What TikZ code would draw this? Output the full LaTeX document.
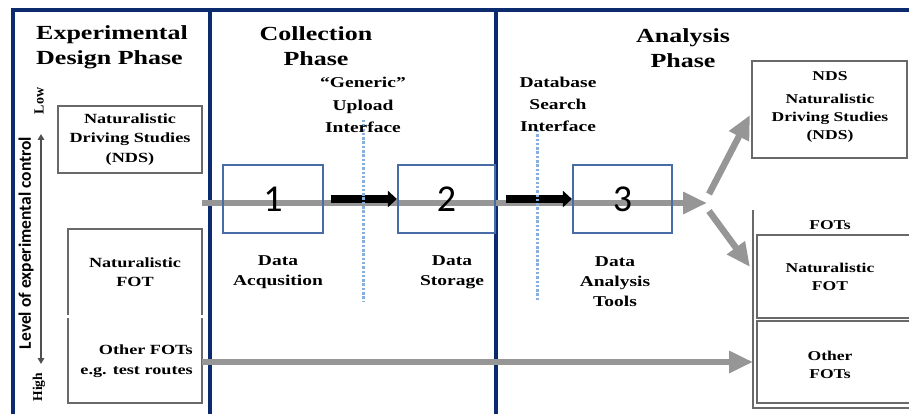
\documentclass[tikz,border=0pt]{standalone}
\usepackage{fontspec}
\setmainfont{Liberation Serif}
\newfontfamily\wserif[FakeStretch=1.3]{Liberation Serif}
\newfontfamily\numfont{Carlito}
\usetikzlibrary{arrows.meta}
\definecolor{navy}{RGB}{12,42,110}
\definecolor{boxblue}{RGB}{72,108,165}
\definecolor{arrgray}{RGB}{150,150,150}
\definecolor{boxgray}{RGB}{105,105,105}
\definecolor{dotblue}{RGB}{135,175,222}
\definecolor{axgray}{RGB}{80,80,80}
\begin{document}
\begin{tikzpicture}[x=1pt,y=-1pt,
  frame/.style={draw=navy,line width=3.2pt},
  ttl/.style={font=\wserif\bfseries\fontsize{20}{25}\selectfont,inner sep=0pt},
  lbl/.style={font=\wserif\bfseries\fontsize{15}{20}\selectfont,align=center,inner sep=0pt},
  sml/.style={font=\wserif\bfseries\fontsize{14}{19.5}\selectfont,align=center,inner sep=0pt},
  rsml/.style={font=\wserif\bfseries\fontsize{13.5}{18}\selectfont,align=center,inner sep=0pt},
  stepbox/.style={draw=boxblue,line width=2.2pt,minimum width=100pt,minimum height=68pt,inner sep=0pt,font=\numfont\fontsize{38}{40}\selectfont},
  graybox/.style={draw=boxgray,line width=2.2pt,inner sep=0pt},
  grayarrow/.style={draw=arrgray,line width=6.5pt,-{Triangle[length=24pt,width=21pt]}},
  blackarrow/.style={draw=black,line width=8.5pt,-{Triangle[length=9pt,width=16pt]}},
  dotline/.style={draw=dotblue,line width=3pt,dash pattern=on 2.5pt off 1.8pt},
  axarrow/.style={draw=axgray,line width=1.8pt,{Triangle[length=6pt,width=6.5pt]}-{Triangle[length=6pt,width=6.5pt]}}
]
\useasboundingbox (0,0) rectangle (909,414);

% frame
\draw[frame] (13,416) -- (13,10) -- (915,10);
\draw[frame] (210,10) -- (210,416);
\draw[frame] (496,10) -- (496,416);

% titles
\node[ttl,align=left,anchor=west] (t1) at (36,47) {Experimental\\Design Phase};
\node[ttl,align=center] (t2) at (316,46) {Collection\\Phase};
\node[ttl,align=center] (t3) at (683,48) {Analysis\\Phase};

% axis
\node[font=\bfseries\fontsize{14}{16}\selectfont,rotate=90,inner sep=0pt] (low) at (39,101) {Low};
\node[font=\bfseries\fontsize{13.5}{16}\selectfont,rotate=90,inner sep=0pt] (high) at (39,387) {High};
\node[font=\numfont\bfseries\fontsize{17.5}{20}\selectfont,rotate=90,inner sep=0pt] (axlab) at (26,243) {Level of experimental control};
\coordinate (axtop) at (41,134);
\coordinate (axbot) at (41,364);
\draw[axarrow] (axbot) -- (axtop);

% left boxes
\node[graybox,sml,minimum width=144pt,minimum height=67pt] (ndsL) at (130,139.5) {Naturalistic\\Driving Studies\\(NDS)};
\node[sml,minimum width=134pt,minimum height=86pt] (natL) at (135,272) {Naturalistic\\FOT};
\draw[boxgray,line width=2.2pt] (natL.south west) |- (natL.north east) -- (natL.south east);
\node[minimum width=134pt,minimum height=85pt,inner sep=0pt] (othL) at (135,360.5) {};
\draw[boxgray,line width=2.2pt] (othL.north west) |- (othL.south east) -- (othL.north east);
\node[sml,align=right,anchor=east] (othLt) at (193,361) {Other FOTs\\e.g. test routes};

% main flow
\coordinate (gstart) at (202,203);
\coordinate (split) at (707,203);
\draw[grayarrow] (gstart) -- (split);

\node[stepbox] (s1) at (273,199) {1};
\node[stepbox,minimum width=97pt] (s2) at (446.5,199) {2};
\node[stepbox,minimum width=99pt] (s3) at (622.5,199) {3};

\draw[blackarrow] ([xshift=7pt]s1.east) -- (s2.west);
\draw[blackarrow] ([xshift=10pt]s2.east) -- (s3.west);

% interfaces
\coordinate (d1t) at (363,120);
\coordinate (d1b) at (363,301);
\coordinate (d2t) at (537,130);
\coordinate (d2b) at (537,301);
\draw[dotline] (d1t) -- (d1b);
\draw[dotline] (d2t) -- (d2b);
\node[lbl,font=\wserif\bfseries\fontsize{15}{22.5}\selectfont] (ui) at (363,105) {“Generic”\\Upload\\Interface};
\node[lbl,font=\wserif\bfseries\fontsize{15}{22}\selectfont] (dsi) at (558,104) {Database\\Search\\Interface};

% step labels
\node[lbl] (l1) at (278,272) {Data\\Acqusition};
\node[lbl] (l2) at (452,272) {Data\\Storage};
\node[lbl] (l3) at (615,282) {Data\\Analysis\\Tools};

% right side
\node[draw=boxgray,line width=2pt,minimum width=155pt,minimum height=97pt,inner sep=0pt] (ndsR) at (829.5,109.5) {};
\node[rsml] (ndsRt) at (830,107) {NDS\\[5pt]Naturalistic\\Driving Studies\\(NDS)};

\coordinate (fgtop) at (753,210);
\coordinate (fgbot) at (753,408);
\coordinate (fgend) at (915,408);
\draw[boxgray,line width=2.2pt] (fgtop) -- (fgbot) -- (fgend);
\node[rsml] (fots) at (830,225) {FOTs};
\node[draw=boxgray,line width=2pt,minimum width=160pt,minimum height=83pt,inner sep=0pt] (natR) at (837,276.5) {};
\node[draw=boxgray,line width=2pt,minimum width=160pt,minimum height=82pt,inner sep=0pt] (othR) at (837,362) {};
\node[rsml] (natRt) at (830,277) {Naturalistic\\FOT};
\node[rsml] (othRt) at (830,365) {Other\\FOTs};

% branch arrows
\coordinate (upS) at (709,194);
\coordinate (dnS) at (709,211);
\draw[grayarrow] (upS) -- ([xshift=-1pt,yshift=-5.5pt]ndsR.west);
\draw[grayarrow] (dnS) -- ([xshift=-6pt,yshift=9.5pt]natR.west);
\draw[grayarrow] (othL.east |- 0,362) -- (fgtop |- 0,362);
\end{tikzpicture}
\end{document}
